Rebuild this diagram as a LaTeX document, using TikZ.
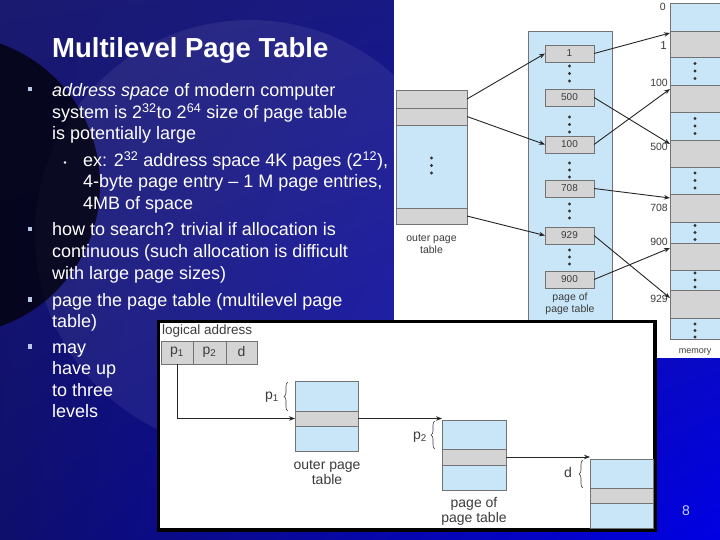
\documentclass[tikz,border=0pt]{standalone}
\usepackage{fontspec}
\setmainfont{Liberation Sans}
\usetikzlibrary{arrows.meta,decorations.pathreplacing,fit,calc,shadings}
\definecolor{lblue}{RGB}{200,230,248}
\definecolor{lgrey}{RGB}{212,212,212}
\definecolor{bord}{RGB}{115,115,115}
\definecolor{figtext}{RGB}{60,60,60}
\definecolor{bulletc}{RGB}{185,200,228}
\definecolor{bgul}{RGB}{26,26,112}
\definecolor{bgur}{RGB}{24,24,150}
\definecolor{bgll}{RGB}{14,14,108}
\definecolor{bglr}{RGB}{0,0,228}
\definecolor{pnum}{RGB}{200,212,255}
\newcommand\mydots[4]{\fill[black!80] (#1,#2) circle (1.6) (#1,#3) circle (1.6) (#1,#4) circle (1.6);}
\begin{document}
\begin{tikzpicture}[x=1pt,y=-1pt,
 cell/.style={draw=bord, line width=0.6pt, inner sep=0pt, outer sep=0pt},
 bcell/.style={cell, fill=lblue},
 gcell/.style={cell, fill=lgrey},
 num/.style={text=figtext, font=\fontsize{10}{12}\selectfont, inner sep=0pt},
 arr/.style={-{Stealth[length=6pt,width=4.5pt]}, line width=0.9pt, draw=black!85},
 body/.style={text=white, font=\fontsize{18}{21}\selectfont, inner sep=0pt, anchor=base west},
 small/.style={text=figtext, font=\fontsize{10.5}{12.5}\selectfont, align=center, inner sep=0pt},
 mid/.style={text=figtext, font=\fontsize{14}{15}\selectfont, align=center, inner sep=0pt},
 memlab/.style={text=figtext, font=\fontsize{10.5}{12}\selectfont, inner sep=0pt, anchor=east},
 brc/.style={decorate, decoration={brace, amplitude=4pt}, draw=figtext, line width=0.6pt},
]
\useasboundingbox (0,0) rectangle (720,540);
% background
\shade[upper left=bgul, upper right=bgur, lower left=bgll, lower right=bglr] (0,0) rectangle (720,540);
\fill[white, opacity=0.07] (250,235) circle (215);
\fill[black, opacity=0.72] (-50,185) circle (150);

% title and text
\node[body, font=\bfseries\fontsize{27.5}{30}\selectfont] (title) at (52,58) {Multilevel Page Table};
\fill[bulletc] (27.5,87) rectangle (32,91.5);
\node[body] (t1) at (52,97) {\textit{address space} of modern computer};
\node[body] (t2) at (52,119) {system is 2\textsuperscript{32}to 2\textsuperscript{64} size of page table};
\node[body] (t3) at (52,140) {is potentially large};
\fill[white] (65,162.5) circle (1.4);
\node[body] (s1) at (83,166.5) {ex: 2\textsuperscript{32} address space 4K pages (2\textsuperscript{12}),};
\node[body] (s2) at (83,188) {4-byte page entry – 1 M page entries,};
\node[body] (s3) at (83,209.5) {4MB of space};
\fill[bulletc] (27.5,227) rectangle (32,231.5);
\node[body] (h1) at (52,236) {how to search? trivial if allocation is};
\node[body] (h2) at (52,257.5) {continuous (such allocation is difficult};
\node[body] (h3) at (52,279) {with large page sizes)};
\fill[bulletc] (27.5,297) rectangle (32,301.5);
\node[body] (g1) at (52,306) {page the page table (multilevel page};
\node[body] (g2) at (52,327) {table)};
\fill[bulletc] (27.5,344) rectangle (32,348.5);
\node[body] (m1) at (52,353) {may};
\node[body] (m2) at (52,374) {have up};
\node[body] (m3) at (52,396) {to three};
\node[body] (m4) at (52,417) {levels};

% ---------- top figure ----------
\fill[white] (394,0) rectangle (720,358);
% outer page table
\node[bcell, fit={(396,90) (467,224)}] (otab) {};
\node[gcell, fit={(396,90) (467,108)}] (oe1) {};
\node[gcell, fit={(396,108) (467,125)}] (oe2) {};
\node[gcell, fit={(396,208) (467,224)}] (oe3) {};
\mydots{431.5}{158}{165.5}{173}
\node[small] (olab) at (431.5,244) {outer page\\table};
% page of page table
\node[bcell, fit={(528,31) (612,326)}] (ptab) {};
\node[gcell, fit={(545,45) (594,62)}] (pe1) {};
\node[gcell, fit={(545,89) (594,106)}] (pe500) {};
\node[gcell, fit={(545,136) (594,153)}] (pe100) {};
\node[gcell, fit={(545,180) (594,197)}] (pe708) {};
\node[gcell, fit={(545,227) (594,244)}] (pe929) {};
\node[gcell, fit={(545,271) (594,288)}] (pe900) {};
\node[num] (n1) at (pe1.center) {1};
\node[num] (n500) at (pe500.center) {500};
\node[num] (n100) at (pe100.center) {100};
\node[num] (n708) at (pe708.center) {708};
\node[num] (n929) at (pe929.center) {929};
\node[num] (n900) at (pe900.center) {900};
\mydots{569.5}{66}{73.5}{81}
\mydots{569.5}{117}{124.5}{132}
\mydots{569.5}{163}{170}{177}
\mydots{569.5}{204}{211}{218}
\mydots{569.5}{250}{257}{264}
\node[small] (plab) at (570,304) {page of\\page table};
% memory
\node[bcell, fit={(670,3) (722,31)}] (mem0) {};
\node[gcell, fit={(670,31) (722,57)}] (mem1) {};
\node[bcell, fit={(670,57) (722,85)}] (memd1) {};
\node[gcell, fit={(670,85) (722,112)}] (mem100) {};
\node[bcell, fit={(670,112) (722,140)}] (memd2) {};
\node[gcell, fit={(670,140) (722,167)}] (mem500) {};
\node[bcell, fit={(670,167) (722,194)}] (memd3) {};
\node[gcell, fit={(670,194) (722,222)}] (mem708) {};
\node[bcell, fit={(670,222) (722,243)}] (memd4) {};
\node[gcell, fit={(670,243) (722,270)}] (mem900) {};
\node[bcell, fit={(670,270) (722,290)}] (memd5) {};
\node[gcell, fit={(670,290) (722,318)}] (mem929) {};
\node[bcell, fit={(670,318) (722,339)}] (memd6) {};
\mydots{695}{63.5}{71}{78.5}
\mydots{695}{118.5}{126}{133.5}
\mydots{695}{173}{180.5}{188}
\mydots{695}{225.5}{232.5}{239.5}
\mydots{695}{273}{280}{287}
\mydots{695}{324}{330.5}{337}
\node[memlab] (ml0) at (666,7) {0};
\node[memlab, font=\fontsize{11.5}{12}\selectfont] (ml1) at (667,46) {1};
\node[memlab] (ml100) at (668,83) {100};
\node[memlab] (ml500) at (668,147) {500};
\node[memlab] (ml708) at (668,208) {708};
\node[memlab] (ml900) at (668,242) {900};
\node[memlab] (ml929) at (668,299) {929};
\node[small, font=\fontsize{9}{10}\selectfont] (mlab) at (695,352) {memory};
% arrows
\draw[arr] (oe1.east) -- (pe1.west);
\draw[arr] (oe2.east) -- (pe100.west);
\draw[arr] (oe3.east) -- (pe929.west);
\draw[arr] (pe1.east) -- ([yshift=-2pt]mem1.north west);
\draw[arr] (pe500.east) -- ([yshift=-4pt]mem500.north west);
\draw[arr] (pe100.east) -- ([yshift=-4pt]mem100.north west);
\draw[arr] (pe708.east) -- ([yshift=-4pt]mem708.north west);
\draw[arr] (pe929.east) -- ([yshift=-8pt]mem929.north west);
\draw[arr] (pe900.east) -- ([yshift=-5pt]mem900.north west);

% ---------- lower figure ----------
\node[draw=black, line width=2.5pt, fill=white, inner sep=0pt, fit={(159,322) (654,529)}] (lowbox) {};
\node[text=figtext, font=\fontsize{13.5}{14}\selectfont, inner sep=0pt, anchor=west] (la) at (162,331.5) {logical address};
\node[gcell, fit={(161,341) (193,364)}] (bp1) {};
\node[gcell, fit={(193,341) (226,364)}] (bp2) {};
\node[gcell, fit={(226,341) (257,364)}] (bd) {};
\node[mid] (tp1) at (bp1.center) {p\textsubscript{1}};
\node[mid] (tp2) at (bp2.center) {p\textsubscript{2}};
\node[mid] (td) at ([yshift=1pt]bd.center) {d};
% outer page table
\node[bcell, fit={(295,381) (358,451)}] (otab2) {};
\node[gcell, fit={(295,411) (358,426)}] (og) {};
\node[mid] (olab2) at (327,473) {outer page\\table};
% page of page table
\node[bcell, fit={(442,420) (506,490)}] (ptab2) {};
\node[gcell, fit={(442,449) (506,465)}] (pg) {};
\node[mid] (plab2) at (474,511.5) {page of\\page table};
% final page
\node[bcell, fit={(590,459) (653,528)}] (ftab) {};
\node[gcell, fit={(590,488) (653,503)}] (fg) {};
% braces
\draw[brc] (288,411) -- (288,382);
\draw[brc] (435,449) -- (435,421);
\draw[brc] (583,488) -- (583,460);
\node[mid] (lp1) at (272,397) {p\textsubscript{1}};
\node[mid] (lp2) at (420,437) {p\textsubscript{2}};
\node[mid] (ld) at (568,472) {d};
% arrows
\draw[arr, line width=0.8pt] (bp1.south) |- (og.west);
\draw[arr, line width=0.8pt] (og.east) -- (og.east -| ptab2.west);
\draw[arr, line width=0.8pt] (pg.east) -- (pg.east -| ftab.west);
% redraw border on top
\draw[black, line width=2.5pt] (lowbox.north west) rectangle (lowbox.south east);

% page number
\node[text=pnum, font=\fontsize{14}{15}\selectfont, inner sep=0pt] (pn) at (686,511) {8};
\end{tikzpicture}
\end{document}
